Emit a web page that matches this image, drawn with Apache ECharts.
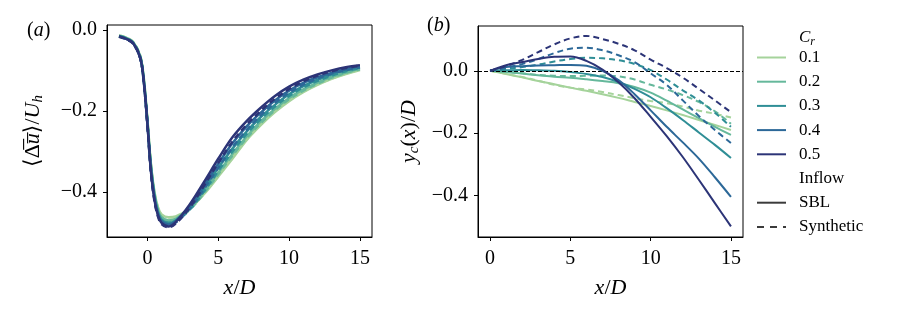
<!DOCTYPE html>
<html><head><meta charset="utf-8">
<script src="https://cdn.jsdelivr.net/npm/echarts@6/dist/echarts.min.js"></script>
<style>html,body{margin:0;padding:0;background:#fff}#c{width:897px;height:318px}</style>
</head><body><div id="c"></div>
<script>
// ---------- data ----------
const crLabels = ['0.1', '0.2', '0.3', '0.4', '0.5'];
const xTicks = [0, 5, 10, 15];
const yTicksA = [-0.4, -0.2, 0.0];
const yTicksB = [-0.4, -0.2, 0.0];

// panel (a): x/D positions and wake velocity deficit
const xA = [-2, -1.5, -1, -0.5, -0.25, 0, 0.25, 0.5, 0.75, 1, 1.5, 2, 3, 4, 5, 6, 7, 8, 9, 10, 11, 12, 13, 14, 15];
const sblA01 = [-0.014,-0.019,-0.030,-0.065,-0.120,-0.220,-0.330,-0.400,-0.438,-0.455,-0.462,-0.460,-0.440,-0.405,-0.362,-0.318,-0.272,-0.235,-0.203,-0.176,-0.154,-0.136,-0.121,-0.109,-0.099];
const sblA02 = [-0.015,-0.020,-0.031,-0.067,-0.124,-0.225,-0.335,-0.405,-0.445,-0.462,-0.470,-0.466,-0.440,-0.398,-0.352,-0.306,-0.263,-0.226,-0.195,-0.168,-0.147,-0.130,-0.116,-0.105,-0.096];
const sblA03 = [-0.015,-0.021,-0.032,-0.068,-0.126,-0.228,-0.340,-0.410,-0.450,-0.468,-0.476,-0.470,-0.437,-0.390,-0.340,-0.293,-0.251,-0.215,-0.185,-0.159,-0.139,-0.123,-0.110,-0.100,-0.093];
const sblA04 = [-0.016,-0.022,-0.033,-0.069,-0.128,-0.230,-0.345,-0.415,-0.455,-0.472,-0.480,-0.472,-0.434,-0.383,-0.330,-0.280,-0.238,-0.204,-0.174,-0.150,-0.131,-0.117,-0.106,-0.097,-0.090];
const sblA05 = [-0.016,-0.022,-0.033,-0.070,-0.130,-0.232,-0.350,-0.420,-0.458,-0.476,-0.485,-0.474,-0.430,-0.375,-0.318,-0.265,-0.225,-0.192,-0.163,-0.140,-0.123,-0.110,-0.100,-0.092,-0.087];
const synA01 = [-0.014,-0.019,-0.030,-0.065,-0.121,-0.221,-0.332,-0.402,-0.440,-0.457,-0.463,-0.462,-0.441,-0.403,-0.359,-0.314,-0.270,-0.232,-0.200,-0.173,-0.152,-0.134,-0.120,-0.108,-0.098];
const synA02 = [-0.015,-0.020,-0.031,-0.067,-0.125,-0.226,-0.337,-0.407,-0.447,-0.464,-0.471,-0.467,-0.443,-0.402,-0.356,-0.310,-0.267,-0.230,-0.198,-0.171,-0.150,-0.133,-0.118,-0.106,-0.097];
const synA03 = [-0.016,-0.021,-0.032,-0.068,-0.127,-0.229,-0.342,-0.412,-0.452,-0.470,-0.477,-0.471,-0.443,-0.398,-0.348,-0.300,-0.257,-0.220,-0.189,-0.163,-0.142,-0.126,-0.113,-0.102,-0.094];
const synA04 = [-0.016,-0.022,-0.033,-0.070,-0.129,-0.231,-0.347,-0.418,-0.457,-0.474,-0.482,-0.475,-0.440,-0.392,-0.340,-0.290,-0.247,-0.211,-0.180,-0.155,-0.135,-0.120,-0.108,-0.099,-0.092];
const synA05 = [-0.017,-0.023,-0.034,-0.071,-0.131,-0.234,-0.352,-0.423,-0.461,-0.479,-0.487,-0.478,-0.438,-0.384,-0.328,-0.276,-0.234,-0.200,-0.170,-0.146,-0.127,-0.113,-0.102,-0.094,-0.088];

// panel (b): wake centre deflection
const xB = [0, 1, 2, 3, 4, 5, 6, 7, 8, 9, 10, 11, 12, 13, 14, 15];
const sblB01 = [0,-0.010,-0.021,-0.033,-0.043,-0.054,-0.064,-0.075,-0.087,-0.100,-0.113,-0.127,-0.142,-0.158,-0.174,-0.190];
const sblB02 = [0,-0.004,-0.009,-0.014,-0.019,-0.022,-0.027,-0.033,-0.040,-0.052,-0.070,-0.096,-0.124,-0.152,-0.180,-0.206];
const sblB03 = [0, 0.002, 0.003, 0.002, 0.000,-0.004,-0.010,-0.020,-0.036,-0.058,-0.085,-0.120,-0.158,-0.198,-0.238,-0.280];
const sblB04 = [0, 0.012, 0.015, 0.017, 0.018, 0.019, 0.016, 0.000,-0.030,-0.075,-0.127,-0.180,-0.230,-0.282,-0.342,-0.405];
const sblB05 = [0, 0.018, 0.028, 0.038, 0.045, 0.046, 0.032, 0.004,-0.037,-0.088,-0.148,-0.210,-0.277,-0.350,-0.425,-0.500];
const synB01 = [0,-0.010,-0.020,-0.032,-0.045,-0.054,-0.060,-0.068,-0.078,-0.088,-0.097,-0.104,-0.115,-0.128,-0.138,-0.150];
const synB02 = [0,-0.003,-0.008,-0.013,-0.016,-0.017,-0.016,-0.015,-0.018,-0.028,-0.045,-0.060,-0.078,-0.100,-0.130,-0.170];
const synB03 = [0, 0.006, 0.012, 0.020, 0.030, 0.038, 0.042, 0.040, 0.034, 0.022, 0.002,-0.028,-0.063,-0.095,-0.135,-0.180];
const synB04 = [0, 0.010, 0.022, 0.038, 0.057, 0.071, 0.074, 0.066, 0.050, 0.028,-0.008,-0.045,-0.095,-0.145,-0.190,-0.232];
const synB05 = [0, 0.015, 0.035, 0.060, 0.085, 0.104, 0.112, 0.102, 0.087, 0.066, 0.036, 0.009,-0.022,-0.058,-0.095,-0.133];

// ---------- styling ----------
const colors = ['#a5d39b', '#65b89b', '#2f8e96', '#2c6898', '#2c3477'];
const F = "'Liberation Serif', 'DejaVu Serif', serif";
const sblA = [sblA01, sblA02, sblA03, sblA04, sblA05];
const synA = [synA01, synA02, synA03, synA04, synA05];
const sblB = [sblB01, sblB02, sblB03, sblB04, sblB05];
const synB = [synB01, synB02, synB03, synB04, synB05];

const rich = {
  r: {fontFamily: F, fontSize: 22, color: '#000', lineHeight: 26},
  i: {fontFamily: F, fontSize: 22, fontStyle: 'italic', color: '#000', lineHeight: 26},
  s: {fontFamily: F, fontSize: 15, fontStyle: 'italic', color: '#000', lineHeight: 13, verticalAlign: 'bottom'}
};
const fmt = v => Math.abs(v) < 1e-9 ? '0.0' : (v < 0 ? '\u2212' : '') + Math.abs(v).toFixed(1);

function xAxis(gi) {
  return {
    type: 'value', gridIndex: gi,
    min: gi === 0 ? -2.85 : -0.75, max: gi === 0 ? 15.85 : 15.75,
    name: '{i|x}{r|/}{i|D}', nameLocation: 'middle', nameGap: 38,
    nameTextStyle: {rich},
    axisLine: {show: true, onZero: false, lineStyle: {color: '#000', width: 1}},
    axisTick: {show: true, length: 4, inside: false, customValues: xTicks, lineStyle: {color: '#000', width: 1}},
    axisLabel: {customValues: xTicks, margin: 12, fontFamily: F, fontSize: 20, color: '#000', formatter: v => String(v)},
    splitLine: {show: false}
  };
}
function yAxis(gi, name, gap, ticks, mn, mx) {
  return {
    type: 'value', gridIndex: gi, min: mn, max: mx,
    name, nameLocation: 'middle', nameGap: gap, nameTextStyle: {rich},
    axisLine: {show: true, onZero: false, lineStyle: {color: '#000', width: 1}},
    axisTick: {show: true, length: 4, customValues: ticks, lineStyle: {color: '#000', width: 1}},
    axisLabel: {customValues: ticks, margin: 10, fontFamily: F, fontSize: 20, color: '#000', formatter: fmt},
    splitLine: {show: false}
  };
}

const series = [];
for (let k = 0; k < 5; k++) {
  series.push({type: 'line', xAxisIndex: 0, yAxisIndex: 0, showSymbol: false, smooth: 0.35,
    data: xA.map((x, j) => [x, sblA[k][j]]), lineStyle: {color: colors[k], width: 2.5}, z: 2 + k});
  series.push({type: 'line', xAxisIndex: 0, yAxisIndex: 0, showSymbol: false, smooth: 0.35,
    data: xA.map((x, j) => [x, synA[k][j]]), lineStyle: {color: colors[k], width: 2.5, type: [6, 4]}, z: 2 + k});
}
for (let k = 0; k < 5; k++) {
  series.push({type: 'line', xAxisIndex: 1, yAxisIndex: 1, showSymbol: false, smooth: 0.35,
    data: xB.map((x, j) => [x, sblB[k][j]]), lineStyle: {color: colors[k], width: 2}, z: 2 + k});
  series.push({type: 'line', xAxisIndex: 1, yAxisIndex: 1, showSymbol: false, smooth: 0.35,
    data: xB.map((x, j) => [x, synB[k][j]]), lineStyle: {color: colors[k], width: 2, type: [6, 4]}, z: 2 + k});
}
// zero reference line in panel (b)
series.push({type: 'line', xAxisIndex: 1, yAxisIndex: 1, data: [], silent: true,
  markLine: {silent: true, symbol: ['none', 'none'], label: {show: false}, animation: false,
    lineStyle: {color: '#000', width: 1, type: [4, 2]}, data: [{yAxis: 0}]}});

// legend drawn as graphic
const legendItems = [];
const LX = 757, LW = 29, TX = 799, Y0 = 57.5, DY = 24.2;
legendItems.push({type: 'text', left: TX, top: 37 - 8, style: {text: '{i|C}{s|r}', rich: {
  i: {fontFamily: F, fontSize: 17, fontStyle: 'italic', color: '#000', lineHeight: 20},
  s: {fontFamily: F, fontSize: 12, fontStyle: 'italic', color: '#000', lineHeight: 9, verticalAlign: 'bottom'}}}});
crLabels.forEach((lab, k) => {
  const y = Y0 + k * DY;
  legendItems.push({type: 'line', shape: {x1: LX, y1: y, x2: LX + LW, y2: y}, style: {stroke: colors[k], lineWidth: 2}});
  legendItems.push({type: 'text', x: TX, y: y, style: {text: lab, font: '17px ' + F, fill: '#000', verticalAlign: 'middle'}});
});
const yIn = Y0 + 5 * DY;
legendItems.push({type: 'text', x: TX, y: yIn, style: {text: 'Inflow', font: '17px ' + F, fill: '#000', verticalAlign: 'middle'}});
legendItems.push({type: 'line', shape: {x1: LX, y1: yIn + DY, x2: LX + LW, y2: yIn + DY}, style: {stroke: '#3b3b3b', lineWidth: 2}});
legendItems.push({type: 'text', x: TX, y: yIn + DY, style: {text: 'SBL', font: '17px ' + F, fill: '#000', verticalAlign: 'middle'}});
legendItems.push({type: 'line', shape: {x1: LX, y1: yIn + 2 * DY, x2: LX + LW, y2: yIn + 2 * DY}, style: {stroke: '#3b3b3b', lineWidth: 2, lineDash: [7, 6]}});
legendItems.push({type: 'text', x: TX, y: yIn + 2 * DY, style: {text: 'Synthetic', font: '17px ' + F, fill: '#000', verticalAlign: 'middle'}});

const panelRich = {
  r: {fontFamily: F, fontSize: 20, color: '#000', lineHeight: 24},
  i: {fontFamily: F, fontSize: 20, fontStyle: 'italic', color: '#000', lineHeight: 24}
};
const option = {
  animation: false,
  backgroundColor: '#fff',
  grid: [
    {left: 107, right: 525, top: 25, bottom: 81, show: true, borderColor: '#000', borderWidth: 1, backgroundColor: 'transparent'},
    {left: 478, right: 154, top: 26, bottom: 81, show: true, borderColor: '#000', borderWidth: 1, backgroundColor: 'transparent'}
  ],
  xAxis: [xAxis(0), xAxis(1)],
  yAxis: [
    yAxis(0, '{r|\u27E8\u0394\u0305}{i|u\u0305}{r|\u27E9/}{i|U}{s|h}', 61, yTicksA, -0.511, 0.012),
    yAxis(1, '{i|y}{s|c}{r|(}{i|x}{r|)/}{i|D}', 56, yTicksB, -0.534, 0.144)
  ],
  series,
  graphic: [
    {type: 'text', left: 27, top: 21, style: {text: '{r|(}{i|a}{r|)}', rich: panelRich}},
    {type: 'text', left: 427, top: 16, style: {text: '{r|(}{i|b}{r|)}', rich: panelRich}},
    ...legendItems
  ]
};
const chart = echarts.init(document.getElementById('c'), null, {renderer: 'canvas'});
chart.setOption(option);
</script>
</body></html>
